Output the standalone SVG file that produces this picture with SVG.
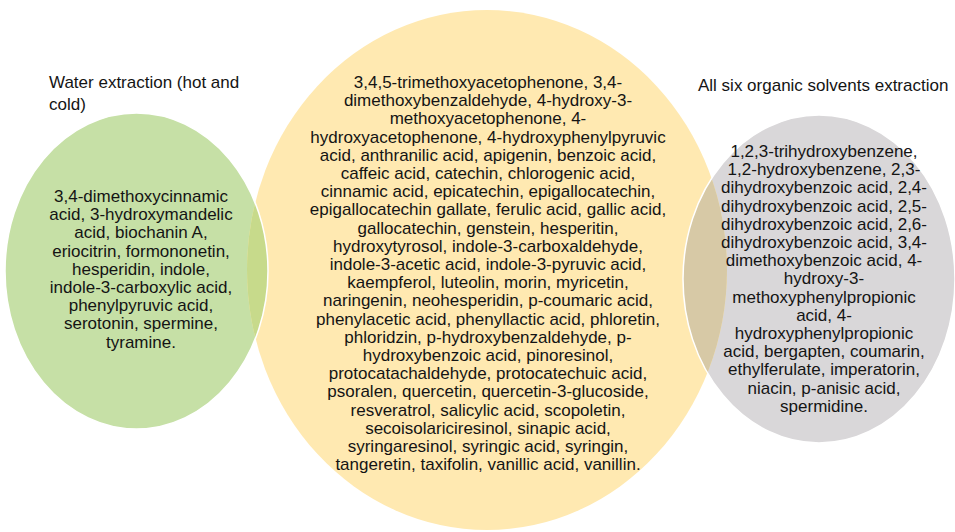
<svg xmlns="http://www.w3.org/2000/svg" width="955" height="532" viewBox="0 0 955 532">
<style>
text{font-family:"Liberation Sans",Arial,sans-serif;font-size:17px;fill:#141414}
.c{text-anchor:middle}
.o{fill:none;stroke:#ffffff;stroke-width:1.5}
</style>
<defs>
<clipPath id="clipY"><ellipse cx="487" cy="270" rx="240" ry="260"/></clipPath>
</defs>
<rect width="955" height="532" fill="#ffffff"/>
<g id="organic">
<ellipse cx="819" cy="279" rx="136" ry="164" fill="#d9d7d9"/>
</g>
<g id="water">
<ellipse cx="136.5" cy="271" rx="131.5" ry="158" fill="#c6e0a6"/>
</g>
<g id="common">
<ellipse cx="487" cy="270" rx="240" ry="260" fill="#ffe9b1"/>
<g clip-path="url(#clipY)">
<ellipse cx="136.5" cy="271" rx="131.5" ry="158" fill="#c7da8b"/>
<ellipse cx="819" cy="279" rx="136" ry="164" fill="#d7c9a6"/>
</g>
</g>
<g id="outlines">
<ellipse class="o" cx="136.5" cy="271" rx="131.5" ry="158"/>
<ellipse class="o" cx="819" cy="279" rx="136" ry="164"/>
</g>
<g id="water-labels">
<text x="49" y="88">Water extraction (hot and</text>
<text x="49" y="110">cold)</text>
<text class="c" x="141" y="202">3,4-dimethoxycinnamic</text>
<text class="c" x="141" y="220.2">acid, 3-hydroxymandelic</text>
<text class="c" x="141" y="238.4">acid, biochanin A,</text>
<text class="c" x="141" y="256.6">eriocitrin, formononetin,</text>
<text class="c" x="141" y="274.8">hesperidin, indole,</text>
<text class="c" x="141" y="293">indole-3-carboxylic acid,</text>
<text class="c" x="141" y="311.2">phenylpyruvic acid,</text>
<text class="c" x="141" y="329.4">serotonin, spermine,</text>
<text class="c" x="141" y="347.6">tyramine.</text>
</g>
<g id="common-labels">
<text class="c" x="488" y="88">3,4,5-trimethoxyacetophenone, 3,4-</text>
<text class="c" x="488" y="106.2">dimethoxybenzaldehyde, 4-hydroxy-3-</text>
<text class="c" x="488" y="124.4">methoxyacetophenone, 4-</text>
<text class="c" x="488" y="142.6">hydroxyacetophenone, 4-hydroxyphenylpyruvic</text>
<text class="c" x="488" y="160.8">acid, anthranilic acid, apigenin, benzoic acid,</text>
<text class="c" x="488" y="179">caffeic acid, catechin, chlorogenic acid,</text>
<text class="c" x="488" y="197.2">cinnamic acid, epicatechin, epigallocatechin,</text>
<text class="c" x="488" y="215.4">epigallocatechin gallate, ferulic acid, gallic acid,</text>
<text class="c" x="488" y="233.6">gallocatechin, genstein, hesperitin,</text>
<text class="c" x="488" y="251.8">hydroxytyrosol, indole-3-carboxaldehyde,</text>
<text class="c" x="488" y="270">indole-3-acetic acid, indole-3-pyruvic acid,</text>
<text class="c" x="488" y="288.2">kaempferol, luteolin, morin, myricetin,</text>
<text class="c" x="488" y="306.4">naringenin, neohesperidin, p-coumaric acid,</text>
<text class="c" x="488" y="324.6">phenylacetic acid, phenyllactic acid, phloretin,</text>
<text class="c" x="488" y="342.8">phloridzin, p-hydroxybenzaldehyde, p-</text>
<text class="c" x="488" y="361">hydroxybenzoic acid, pinoresinol,</text>
<text class="c" x="488" y="379.2">protocatachaldehyde, protocatechuic acid,</text>
<text class="c" x="488" y="397.4">psoralen, quercetin, quercetin-3-glucoside,</text>
<text class="c" x="488" y="415.6">resveratrol, salicylic acid, scopoletin,</text>
<text class="c" x="488" y="433.8">secoisolariciresinol, sinapic acid,</text>
<text class="c" x="488" y="452">syringaresinol, syringic acid, syringin,</text>
<text class="c" x="488" y="470.2">tangeretin, taxifolin, vanillic acid, vanillin.</text>
</g>
<g id="organic-labels">
<text x="698" y="91">All six organic solvents extraction</text>
<text class="c" x="824" y="157">1,2,3-trihydroxybenzene,</text>
<text class="c" x="824" y="175.2">1,2-hydroxybenzene, 2,3-</text>
<text class="c" x="824" y="193.4">dihydroxybenzoic acid, 2,4-</text>
<text class="c" x="824" y="211.6">dihydroxybenzoic acid, 2,5-</text>
<text class="c" x="824" y="229.8">dihydroxybenzoic acid, 2,6-</text>
<text class="c" x="824" y="248">dihydroxybenzoic acid, 3,4-</text>
<text class="c" x="824" y="266.2">dimethoxybenzoic acid, 4-</text>
<text class="c" x="824" y="284.4">hydroxy-3-</text>
<text class="c" x="824" y="302.6">methoxyphenylpropionic</text>
<text class="c" x="824" y="320.8">acid, 4-</text>
<text class="c" x="824" y="339">hydroxyphenylpropionic</text>
<text class="c" x="824" y="357.2">acid, bergapten, coumarin,</text>
<text class="c" x="824" y="375.4">ethylferulate, imperatorin,</text>
<text class="c" x="824" y="393.6">niacin, p-anisic acid,</text>
<text class="c" x="824" y="411.8">spermidine.</text>
</g>
</svg>
